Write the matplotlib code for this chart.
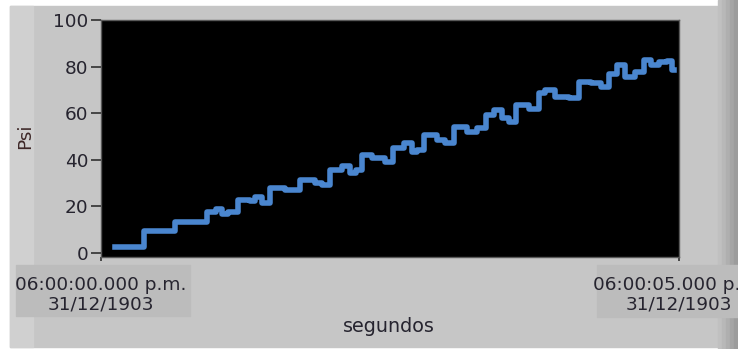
import numpy as np
import matplotlib
matplotlib.use('Agg')
from matplotlib import pyplot as plt
from matplotlib.patches import Rectangle

# tiempo (s) y presion (psi)
t_s = [0.121, 0.371, 0.639, 0.915, 0.993, 1.045, 1.097, 1.183, 1.287, 1.330,
       1.390, 1.459, 1.589, 1.718, 1.848, 1.908, 1.978, 2.081, 2.150, 2.202,
       2.254, 2.340, 2.453, 2.522, 2.625, 2.686, 2.737, 2.798, 2.910, 2.979,
       3.057, 3.169, 3.256, 3.333, 3.402, 3.472, 3.532, 3.592, 3.705, 3.791,
       3.843, 3.929, 4.050, 4.136, 4.240, 4.326, 4.396, 4.465, 4.534, 4.620,
       4.698, 4.758, 4.827, 4.896, 4.940, 4.957]
psi = [2.4, 9.4, 13.4, 17.5, 18.9, 16.7, 17.6, 22.7, 22.2, 24.0,
       21.5, 27.8, 27.2, 31.3, 30.0, 29.2, 35.6, 37.5, 34.3, 35.6,
       42.0, 40.8, 39.2, 45.0, 47.2, 43.5, 44.2, 50.6, 48.5, 47.2,
       54.2, 52.0, 53.6, 59.2, 61.4, 58.0, 56.3, 63.5, 62.0, 68.5,
       70.0, 67.0, 66.5, 73.5, 73.0, 71.4, 77.0, 80.7, 75.7, 77.8,
       82.8, 80.7, 82.0, 82.5, 78.5, 78.5]

x_ticks = [0, 5]
x_labels = ['06:00:00.000 p.m.\n31/12/1903', '06:00:05.000 p.m.\n31/12/1903']
y_ticks = [0, 20, 40, 60, 80, 100]

W, H = 738, 349
txt = '#26242f'
fs = 13.3

fig = plt.figure(figsize=(W / 100, H / 100), dpi=100, facecolor='white')


def px_rect(x0, y0, x1, y1, color):
    # rectangulo en pixeles (origen arriba a la izquierda)
    fig.patches.append(Rectangle((x0 / W, 1 - y1 / H), (x1 - x0) / W, (y1 - y0) / H,
                                 transform=fig.transFigure, color=color, zorder=-5))


# panel gris estilo LabVIEW
px_rect(10, 6, 728, 347, '#c6c6c6')
px_rect(10, 6, 33, 347, '#d0d0d0')
for i, c in enumerate(['#c0c0c0', '#b8b8b8', '#afafaf', '#a5a5a5', '#9c9c9c']):
    px_rect(718 + i * 4, 0, 722 + i * 4, 349, c)
# cajas de las etiquetas de tiempo
px_rect(16, 265, 190, 316, '#bcbcbc')
px_rect(597, 265, 738, 317, '#bcbcbc')

ax = fig.add_axes([101 / W, 1 - 257 / H, (679 - 101) / W, (257 - 20) / H])
ax.set_facecolor('black')
ax.plot(t_s, psi, drawstyle='steps-post', color='#4a86cf', lw=4.0)
ax.set_xlim(0, 5)
ax.set_ylim(-1.7, 100)

ax.set_yticks(y_ticks)
ax.set_yticklabels([str(v) for v in y_ticks], fontsize=fs, color=txt)
ax.tick_params(axis='y', length=7, width=1.2, color='#303030', pad=2)
ax.set_xticks(x_ticks)
ax.set_xticklabels(x_labels, fontsize=fs, color=txt, linespacing=1.1)
ax.tick_params(axis='x', length=3, width=1.2, color='#303030', pad=11)
for s in ax.spines.values():
    s.set_color('#5a5a5a')
    s.set_linewidth(1)

fig.text(25 / W, 1 - 136 / H, 'Psi', rotation=90, ha='center', va='center',
         fontsize=fs, color='#3e2828')
fig.text(389 / W, 1 - 326 / H, 'segundos', ha='center', va='center',
         fontsize=fs + 0.5, color=txt)

plt.savefig('out.png', dpi=100, facecolor=fig.get_facecolor())
